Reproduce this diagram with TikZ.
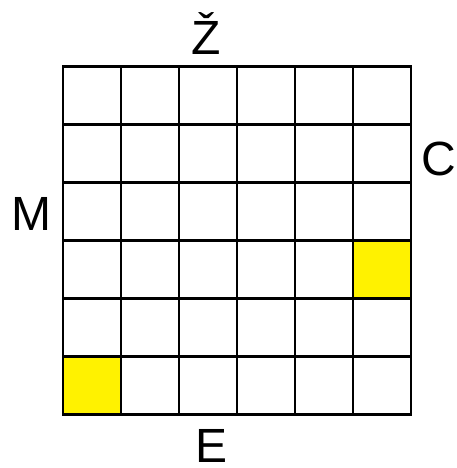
\documentclass[tikz,border=0pt]{standalone}
\usepackage{fontspec}
\setmainfont{Liberation Sans}
\begin{document}
\begin{tikzpicture}[x=1pt,y=-1pt,
  cell/.style={draw=black,line width=2.8pt,fill=white},
  hit/.style={draw=black,line width=2.8pt,fill=yellow},
  lbl/.style={anchor=base,inner sep=0pt,font=\fontsize{48}{48}\selectfont}]
\useasboundingbox (0,0) rectangle (456,468);
\foreach \r in {0,...,5}{
  \foreach \c in {0,...,5}{
    \draw[cell] ({63+58*\c},{66.5+58*\r}) rectangle ++(58,58);
  }
}
\draw[hit] ({63+58*5},{66.5+58*3}) rectangle ++(58,58);
\draw[hit] ({63},{66.5+58*5}) rectangle ++(58,58);
\node[lbl] (top) at (206,55) {Ž};
\node[lbl] (right) at (439,175) {C};
\node[lbl] (left) at (31,230) {M};
\node[lbl] (bottom) at (212,462) {E};
\end{tikzpicture}
\end{document}
